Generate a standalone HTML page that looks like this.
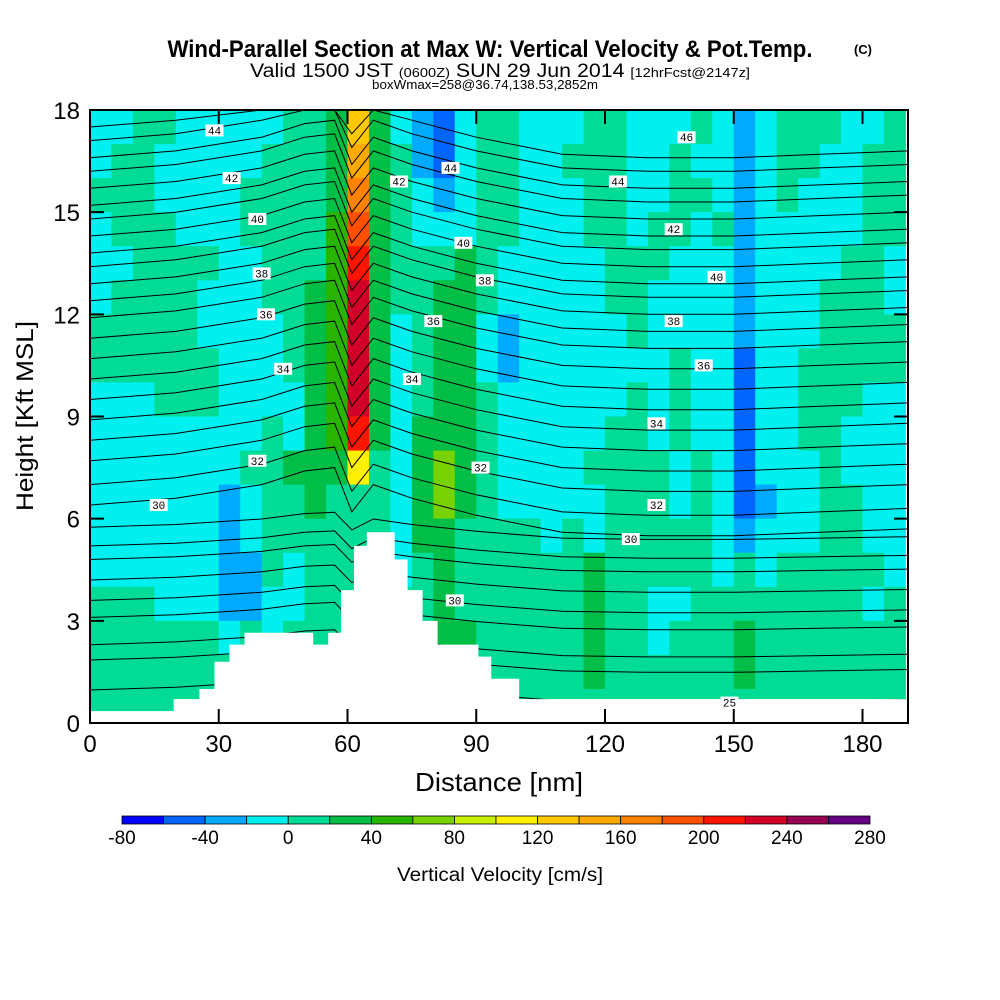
<!DOCTYPE html>
<html><head><meta charset="utf-8">
<style>
html,body{margin:0;padding:0;background:#fff;}
svg{display:block;font-family:"Liberation Sans Narrow","Liberation Sans",sans-serif;}
</style></head>
<body>
<svg id="chart" width="1000" height="1000" viewBox="0 0 1000 1000" xmlns="http://www.w3.org/2000/svg">
  <rect x="0" y="0" width="1000" height="1000" fill="#fff"/>
  <text x="490" y="57" text-anchor="middle" font-size="24" font-weight="bold" textLength="645" lengthAdjust="spacingAndGlyphs">Wind-Parallel Section at Max W: Vertical Velocity &amp; Pot.Temp.</text>
  <text x="863" y="54" text-anchor="middle" font-size="13" font-weight="bold">(C)</text>
  <text x="500" y="77" text-anchor="middle" font-size="19" textLength="500" lengthAdjust="spacingAndGlyphs">Valid 1500 JST <tspan font-size="13">(0600Z)</tspan> SUN 29 Jun 2014 <tspan font-size="13">[12hrFcst@2147z]</tspan></text>
  <text x="485" y="89" text-anchor="middle" font-size="13" textLength="226" lengthAdjust="spacingAndGlyphs">boxWmax=258@36.74,138.53,2852m</text>
  <g id="plot"></g>
  <g id="axes"></g>
  <g id="cbar"></g>
  <text transform="translate(33,416) rotate(-90)" text-anchor="middle" font-size="24" textLength="190" lengthAdjust="spacingAndGlyphs">Height [Kft MSL]</text>
  <text x="499" y="791" text-anchor="middle" font-size="26" textLength="168" lengthAdjust="spacingAndGlyphs">Distance [nm]</text>
  <text x="500" y="881" text-anchor="middle" font-size="19" textLength="206" lengthAdjust="spacingAndGlyphs">Vertical Velocity [cm/s]</text>
</svg>
<script>
// ---- data ----
const levelCodes = "abcdefghijklmnopqr"; // class index -> code
const levelBounds = [-80,-60,-40,-20,0,20,40,60,80,100,120,140,160,180,200,220,240,260,280];
const levelColors = ["#0000ff","#0064ff","#00aaff","#00f0f0","#00dc96","#00be46","#28b400","#78d200","#c8f000","#fff000","#ffc800","#ffaa00","#ff8200","#ff5000","#ff1400","#d20028","#960050","#640082"];
const colorbarTicks = [-80,-40,0,40,80,120,160,200,240,280];
const xTicks = [0,30,60,90,120,150,180];
const yTicks = [0,3,6,9,12,15,18];
// velocity class codes, rows from 17-18 kft down to 0-1 kft, 5nm columns 0..190
const wRows = [
 "ddeedd"+"dddee"+"fkf"+"dcbdee"+"dddeeddde"+"dcd"+"eeedde",
 "deeddd"+"ddeee"+"flf"+"ecbdee"+"ddeeedded"+"dcd"+"eeddee",
 "eeeddd"+"deeee"+"fmf"+"edcdee"+"dddeeddee"+"dcd"+"edddee",
 "deeedd"+"deeee"+"gnf"+"edddee"+"dddeedeed"+"ecd"+"ddddee",
 "ddeeee"+"ddeee"+"gof"+"eeefed"+"ddddeeedd"+"dcd"+"dddeed",
 "deeeed"+"ddeef"+"gpf"+"eeffed"+"ddddeeddd"+"dcd"+"ddeeed",
 "eeeeed"+"dddef"+"gpf"+"deffdc"+"dddddeddd"+"dcd"+"ddeeee",
 "eeeeee"+"dddef"+"gpf"+"deffdc"+"ddddddded"+"dbd"+"deeeee",
 "dddeee"+"ddddf"+"gpf"+"deffed"+"dddddeded"+"dbd"+"deeedd",
 "dddddd"+"ddedf"+"gof"+"dfffed"+"ddddeeded"+"dbd"+"deeddd",
 "dddddd"+"deeff"+"fje"+"dfhfed"+"dddeeeede"+"dbd"+"ddeddd",
 "dddddd"+"cdeef"+"eee"+"dfhfed"+"ddddeeede"+"dbc"+"ddeedd",
 "dddddd"+"cdeee"+"eee"+"dffeee"+"ededeeeee"+"dcd"+"ddeedd",
 "dddddd"+"ccede"+"eee"+"defeee"+"eeefeeeee"+"ded"+"eeeeed",
 "eeeddd"+"ccdde"+"eee"+"eefeee"+"eeefeedde"+"eee"+"eeeede",
 "eeeeee"+"dedee"+"eee"+"eeffee"+"eeefeedee"+"efe"+"eeeeee",
 "eeeeee"+"eeeee"+"eee"+"eefeee"+"eeefeeeee"+"efe"+"eeeeee",
 "eeeeee"+"eeeee"+"eee"+"eeeeee"+"eeeeeeeee"+"eee"+"eeeeee"
];
// terrain: step edges (nm) and heights (kft)
const terrainX = [0,19.5,25.5,29,32.5,36,43.5,52,55.5,58.5,61.5,64.5,71,74,77.5,81,87.5,90.5,93.5,100,190.6];
const terrainH = [0.35,0.7,1.0,1.8,2.3,2.65,2.65,2.3,2.65,3.9,5.2,5.6,4.8,3.9,3.0,2.3,2.3,1.95,1.3,0.7,0.35];
// isentrope base heights at x=0 (kft)
const thetaBase = [0.97,1.85,2.3,3.1,3.6,4.2,4.8,5.2,5.75,6.4,7.0,7.7,8.3,8.9,9.5,10.1,10.7,11.3,11.9,12.4,12.9,13.4,13.8,14.3,14.8,15.2,15.7,16.2,16.6,17.1,17.5];
const profX = [0,20,40,50,57,61,66,75,90,110,130,150,170,190.6];
const profDy = [0,0.2,0.6,1.0,1.1,-0.2,0.6,0.2,-0.3,-0.8,-0.9,-0.9,-0.8,-0.7];
const thetaLabels = ["44","42","40","38","36","34","32","30","42","44","40","38","36","34","32","30","46","44","42","40","38","36","34","32","30","25"];
const labelX = [29,33,39,40,41,45,39,16,72,84,87,92,80,75,91,85,139,123,136,146,136,143,132,132,126,149];
const labelY = [17.4,16.0,14.8,13.2,12.0,10.4,7.7,6.4,15.9,16.3,14.1,13.0,11.8,10.1,7.5,3.6,17.2,15.9,14.5,13.1,11.8,10.5,8.8,6.4,5.4,0.6];

// ---- scales ----
const X0=90, X1=908, Y0=723, Y1=110, XMAX=190.6, YMAX=18;
const sx = v => X0 + v*(X1-X0)/XMAX;
const sy = v => Y0 - v*(Y0-Y1)/YMAX;
const NS="http://www.w3.org/2000/svg";
function mk(tag, attrs, parent){const e=document.createElementNS(NS,tag);for(const k in attrs)e.setAttribute(k,attrs[k]);parent.appendChild(e);return e;}
const plot=document.getElementById('plot'), axes=document.getElementById('axes'), cbar=document.getElementById('cbar');

// heatmap cells
wRows.forEach((row,ri)=>{
  const y0 = YMAX-ri-1;
  for(let ci=0;ci<row.length;ci++){
    const idx = levelCodes.indexOf(row[ci]);
    const xa=ci*5, xb=Math.min(ci*5+5,XMAX);
    const r=mk('rect',{x:sx(xa),y:sy(y0+1),width:sx(xb)-sx(xa)+0.5,height:sy(y0)-sy(y0+1)+0.5,fill:levelColors[idx]},plot);
    
    
  }
});

// isentropes
function interpDy(x){for(let i=0;i<profX.length-1;i++){if(x<=profX[i+1]){const t=(x-profX[i])/(profX[i+1]-profX[i]);return profDy[i]+t*(profDy[i+1]-profDy[i]);}}return profDy[profDy.length-1];}
thetaBase.forEach((h,li)=>{
  const scale = h<6 ? 0.4 : 1;
  const pts = profX.map(x=>{const v=Math.min(YMAX,Math.max(0,h+interpDy(x)*scale));return sx(x).toFixed(1)+','+sy(v).toFixed(1);});
  const p=mk('polyline',{points:pts.join(' '),fill:'none',stroke:'#000','stroke-width':1},plot);
  
  
});

// terrain
let d='M'+sx(0)+','+sy(0);
for(let i=0;i<terrainX.length-1;i++){d+=' L'+sx(terrainX[i])+','+sy(terrainH[i])+' L'+sx(terrainX[i+1])+','+sy(terrainH[i]);}
d+=' L'+sx(XMAX)+','+sy(0)+' Z';
const terr=mk('path',{d:d,fill:'#fff'},plot);



// contour labels
thetaLabels.forEach((t,i)=>{
  const g=mk('g',{},plot);
  
  
  mk('rect',{x:sx(labelX[i])-9,y:sy(labelY[i])-6,width:18,height:12,fill:'#fff'},g);
  const tx=mk('text',{x:sx(labelX[i]),y:sy(labelY[i])+4,'text-anchor':'middle','font-size':11,'font-family':'Liberation Mono, monospace'},g);
  tx.textContent=t;
});

// frame + ticks
const fr=mk('rect',{x:X0,y:Y1,width:X1-X0,height:Y0-Y1,fill:'none',stroke:'#000','stroke-width':2},axes);


xTicks.forEach(v=>{
  const l=mk('path',{d:`M${sx(v)},${Y0}v-14M${sx(v)},${Y1}v14`,stroke:'#000','stroke-width':2},axes);
  
  
  const t=mk('text',{x:sx(v),y:752,'text-anchor':'middle','font-size':24},axes);
  
  
  t.textContent=v;
});
yTicks.forEach(v=>{
  const l=mk('path',{d:`M${X0},${sy(v)}h14M${X1},${sy(v)}h-14`,stroke:'#000','stroke-width':2},axes);
  
  
  const t=mk('text',{x:80,y:sy(v)+9,'text-anchor':'end','font-size':24},axes);
  
  
  t.textContent=v;
});

// colorbar
const CB0=122, CB1=870, CBY=816, CBH=8;
const cbx = v => CB0 + (v-levelBounds[0])*(CB1-CB0)/(levelBounds[levelBounds.length-1]-levelBounds[0]);
levelColors.forEach((c,i)=>{
  const r=mk('rect',{x:cbx(levelBounds[i]),y:CBY,width:cbx(levelBounds[i+1])-cbx(levelBounds[i]),height:CBH,fill:c,stroke:'#000','stroke-width':0.8},cbar);
  
  
});
colorbarTicks.forEach(v=>{
  const t=mk('text',{x:cbx(v),y:844,'text-anchor':'middle','font-size':19},cbar);
  
  
  t.textContent=v;
});
</script>
</body></html>
